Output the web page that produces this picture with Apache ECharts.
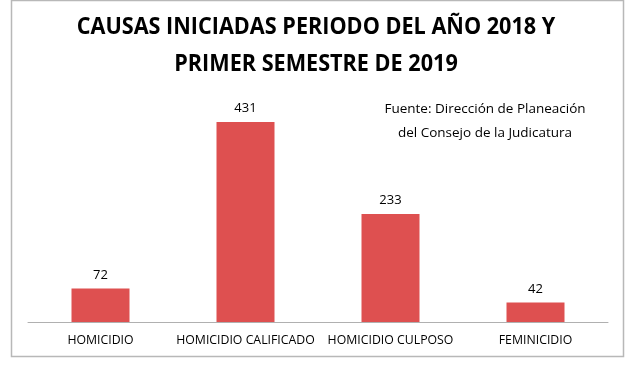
<!DOCTYPE html>
<html><head><meta charset="utf-8">
<script src="https://cdn.jsdelivr.net/npm/echarts@6/dist/echarts.min.js"></script>
<style>html,body{margin:0;padding:0;background:#fff}#c{width:640px;height:368px}</style>
</head><body><div id="c"></div>
<script>
const categories = ['HOMICIDIO', 'HOMICIDIO CALIFICADO', 'HOMICIDIO CULPOSO', 'FEMINICIDIO'];
const values = [72, 431, 233, 42];
const titleText = 'CAUSAS INICIADAS PERIODO DEL AÑO 2018 Y\nPRIMER SEMESTRE DE 2019';
const sourceText = 'Fuente: Dirección de Planeación\ndel Consejo de la Judicatura';

const chart = echarts.init(document.getElementById('c'), null, {renderer: 'canvas'});
chart.setOption({
  animation: false,
  backgroundColor: '#fff',
  graphic: [
    {type: 'rect', shape: {x: 11.5, y: 0.5, width: 612, height: 356}, style: {fill: 'none', stroke: '#b8b8b8', lineWidth: 1.5}, silent: true},
    {type: 'text', x: 316, y: 9, scaleX: 0.94, originX: 0,
     style: {text: titleText, font: 'bold 23px "Open Sans"', fill: '#000', align: 'center', verticalAlign: 'top', lineHeight: 37}}
  ],
  title: {
    text: sourceText, left: 480, top: 92, textAlign: 'center',
    textStyle: {fontFamily: 'Open Sans', fontSize: 13.5, fontWeight: 'normal', color: '#000', lineHeight: 24}
  },
  grid: {left: 28, right: 32, top: 90, bottom: 46},
  xAxis: {
    type: 'category', data: categories,
    axisLine: {lineStyle: {color: '#b0b0b0', width: 1}},
    axisTick: {show: false},
    axisLabel: {color: '#000', fontFamily: 'Open Sans', fontSize: 12.3, margin: 12, interval: 0}
  },
  yAxis: {type: 'value', min: 0, max: 500, show: false, splitLine: {show: false}},
  series: [{
    type: 'bar', data: values, barWidth: '40%',
    itemStyle: {color: '#de5050'},
    label: {show: true, position: 'top', distance: 7, color: '#000', fontFamily: 'Open Sans', fontSize: 13}
  }]
});
</script></body></html>
